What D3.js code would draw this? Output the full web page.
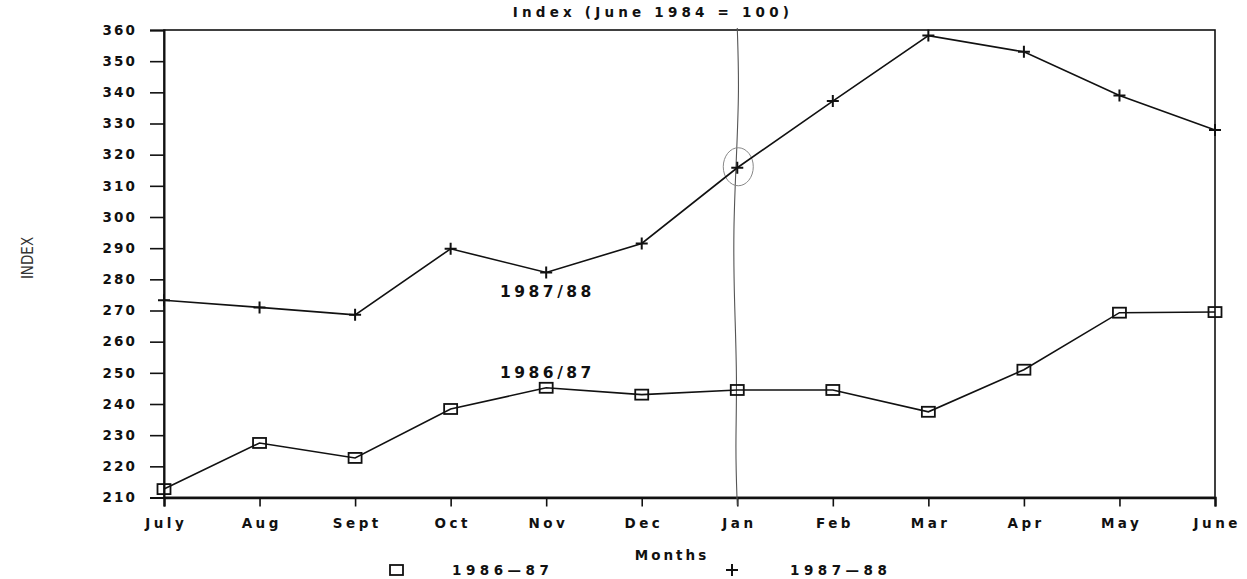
<!DOCTYPE html>
<html>
<head>
<meta charset="utf-8">
<script src="https://cdn.jsdelivr.net/npm/d3@7"></script>
<style>
  html, body { margin: 0; padding: 0; background: #fff; }
  svg { display: block; }
  .lbl { font-family: "DejaVu Sans", sans-serif; font-weight: bold; font-size: 13.5px; fill: #111; }
</style>
</head>
<body>
<svg id="chart" width="1247" height="579"></svg>
<script>
const months = ["July","Aug","Sept","Oct","Nov","Dec","Jan","Feb","Mar","Apr","May","June"];
const series8687 = [212.7, 227.5, 222.7, 238.4, 245.2, 243.0, 244.5, 244.5, 237.5, 251.0, 269.3, 269.5];
const series8788 = [273.3, 271.0, 268.6, 289.8, 282.2, 291.5, 315.8, 337.2, 358.2, 353.0, 339.0, 327.9];
const yTicks = [210,220,230,240,250,260,270,280,290,300,310,320,330,340,350,360];
const seriesNames = ["1986-87", "1987-88"];
const inlineLabels = ["1986/87", "1987/88"];
const titleText = "Index (June 1984 = 100)";
const xTitle = "Months";
const yTitle = "INDEX";

const W = 1247, H = 579;
const m = {left: 164, right: 32, top: 30, bottom: 81.5};
const svg = d3.select("#chart");
const g = svg.append("g");

const x = d3.scalePoint().domain(months).range([m.left, W - m.right]);
const y = d3.scaleLinear().domain([210, 360]).range([H - m.bottom, m.top]);

// frame
g.append("rect").attr("x", m.left).attr("y", m.top)
  .attr("width", W - m.right - m.left).attr("height", H - m.bottom - m.top)
  .attr("fill", "none").attr("stroke", "#111").attr("stroke-width", 1.6);

// y axis
const ya = g.append("g").attr("transform", `translate(${m.left},0)`)
  .call(d3.axisLeft(y).tickValues(yTicks).tickSize(14).tickPadding(15).tickFormat(d3.format("d")));
ya.select(".domain").attr("stroke", "#111").attr("stroke-width", 2);
ya.selectAll(".tick line").attr("stroke", "#111").attr("stroke-width", 1.6);
ya.selectAll(".tick text").attr("class", "lbl").style("letter-spacing", "2.2px").attr("dx", "2.2px");

// x axis
const xa = g.append("g").attr("transform", `translate(0,${H - m.bottom})`)
  .call(d3.axisBottom(x).tickSize(9).tickPadding(12));
xa.select(".domain").attr("stroke", "#111").attr("stroke-width", 2.4);
xa.selectAll(".tick line").attr("stroke", "#111").attr("stroke-width", 1.6);
xa.selectAll(".tick text").attr("class", "lbl").style("letter-spacing", "3.5px").attr("dx", "1.7px");

// hand-drawn annotation: vertical line at Jan and circle around Jan point
const jx = x("Jan");
const wav = [[0, m.top - 2], [2, 90], [-1, 160], [-4, 230], [-3, 300], [0, 380], [-2, 450], [0, H - m.bottom + 8]];
g.append("path")
  .attr("d", d3.line().curve(d3.curveBasis)(wav.map(p => [jx + p[0], p[1]])))
  .attr("fill", "none").attr("stroke", "#555").attr("stroke-width", 1.1);
g.append("ellipse").attr("cx", jx + 1).attr("cy", y(series8788[6]) - 1)
  .attr("rx", 15).attr("ry", 19).attr("fill", "none").attr("stroke", "#888").attr("stroke-width", 1);

// lines
const line = d3.line().x((d, i) => x(months[i])).y(d => y(d));
g.append("path").datum(series8687).attr("d", line)
  .attr("fill", "none").attr("stroke", "#111").attr("stroke-width", 1.6);
g.append("path").datum(series8788).attr("d", line)
  .attr("fill", "none").attr("stroke", "#111").attr("stroke-width", 1.6);

// square markers
g.selectAll(".sq").data(series8687).join("rect")
  .attr("x", (d, i) => x(months[i]) - 6.5).attr("y", d => y(d) - 5)
  .attr("width", 13).attr("height", 10)
  .attr("fill", "none").attr("stroke", "#111").attr("stroke-width", 1.8);

// plus markers
function plus(sel, cx, cy, s) {
  sel.append("path").attr("d", `M${cx - s},${cy}H${cx + s}M${cx},${cy - s}V${cy + s}`)
    .attr("stroke", "#111").attr("stroke-width", 2).attr("fill", "none");
}
series8788.forEach((d, i) => plus(g, x(months[i]), y(d), 6));

// inline series labels
g.append("text").attr("class", "lbl").style("font-size", "15.5px").style("letter-spacing", "3.5px")
  .attr("x", 500).attr("y", y(248.3)).text(inlineLabels[0]);
g.append("text").attr("class", "lbl").style("font-size", "15.5px").style("letter-spacing", "3.5px")
  .attr("x", 500).attr("y", y(274.3)).text(inlineLabels[1]);

// title
g.append("text").attr("class", "lbl").style("letter-spacing", "4.2px")
  .attr("x", 653).attr("y", 17).attr("text-anchor", "middle").text(titleText);

// x title
g.append("text").attr("class", "lbl").style("letter-spacing", "3px")
  .attr("x", 672).attr("y", 560).attr("text-anchor", "middle").text(xTitle);

// y title
g.append("text").attr("transform", "translate(33,258) rotate(-90)")
  .attr("text-anchor", "middle")
  .style("font-family", "'DejaVu Sans Condensed', 'DejaVu Sans', sans-serif")
  .style("font-size", "15px").style("fill", "#333").text(yTitle);

// legend
const ly = 570;
g.append("rect").attr("x", 390).attr("y", ly - 5).attr("width", 13).attr("height", 10)
  .attr("fill", "none").attr("stroke", "#111").attr("stroke-width", 1.8);
g.append("text").attr("class", "lbl").style("letter-spacing", "4.5px")
  .attr("x", 452).attr("y", ly + 5).text(seriesNames[0].replace("-", "\u2014"));
plus(g, 732, ly, 6);
g.append("text").attr("class", "lbl").style("letter-spacing", "4.5px")
  .attr("x", 790).attr("y", ly + 5).text(seriesNames[1].replace("-", "\u2014"));
</script>
</body>
</html>
